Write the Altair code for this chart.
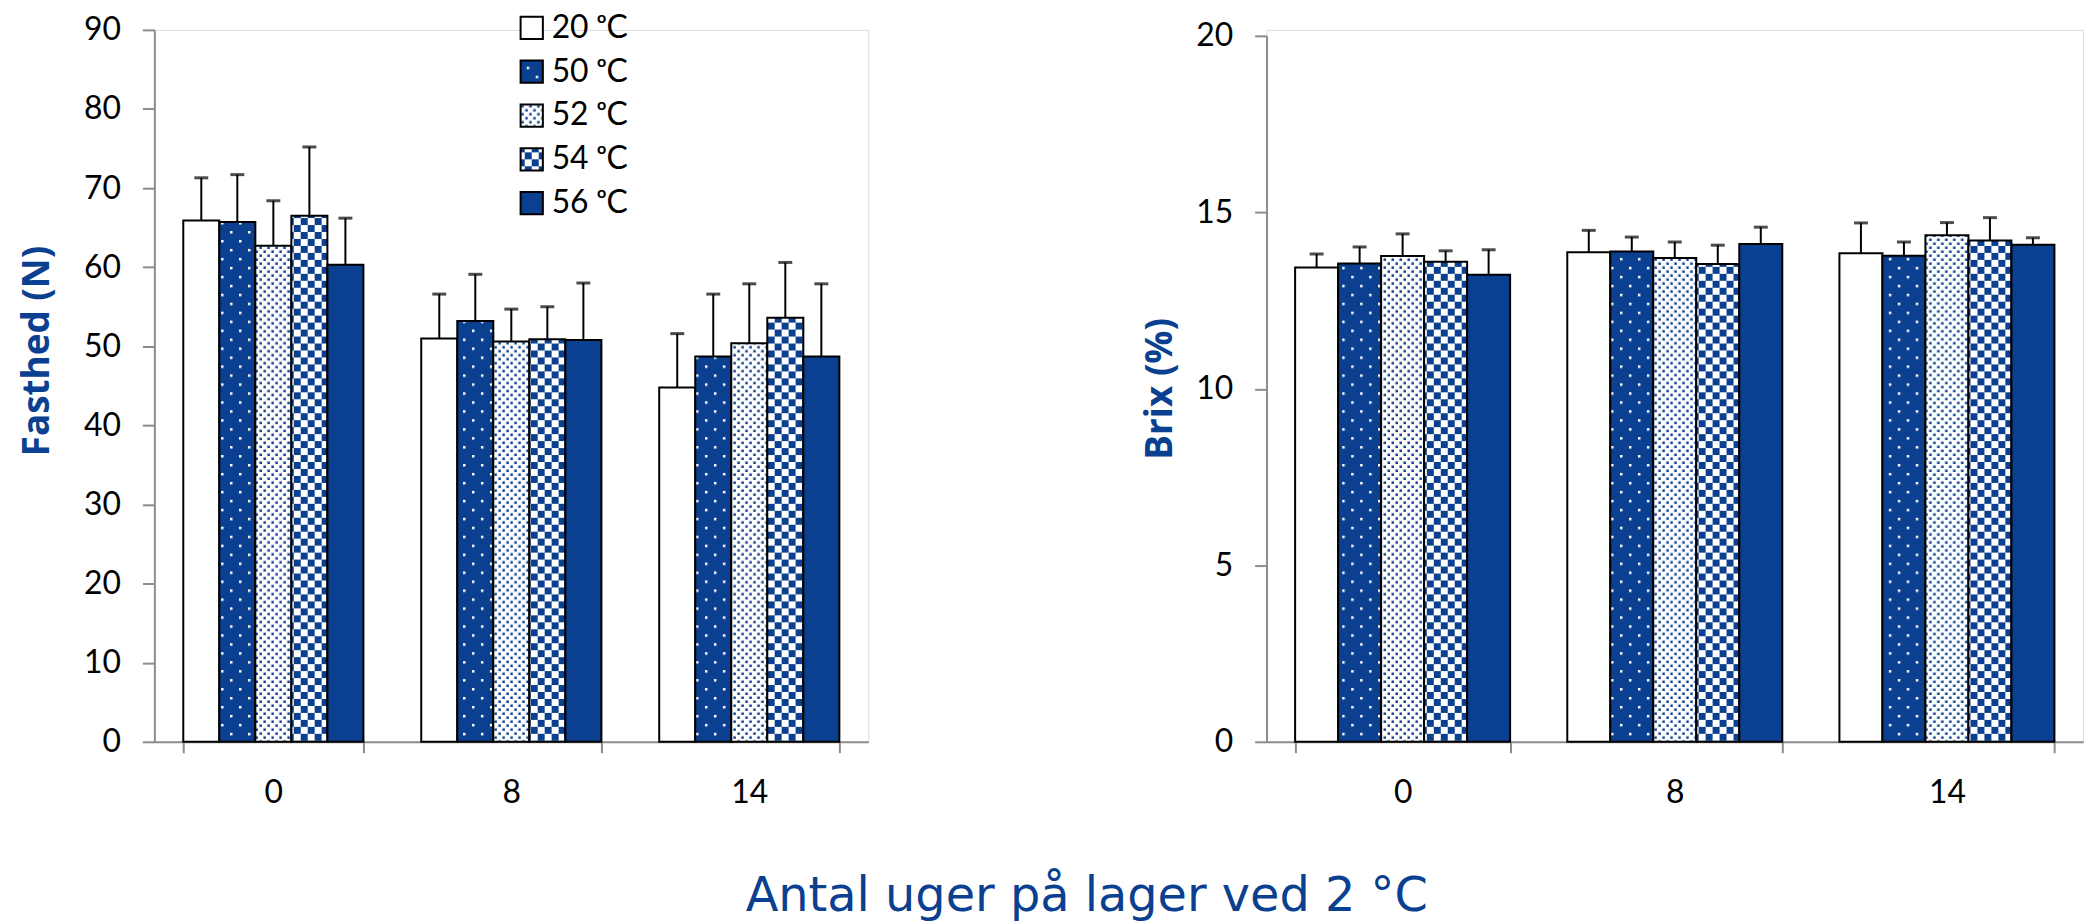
import altair as alt
import pandas as pd
from altair.utils import html as alt_html

# ---------------- data ----------------
weeks = ["0", "8", "14"]
temps = ["20 ᵒC", "50 ᵒC", "52 ᵒC", "54 ᵒC", "56 ᵒC"]

fasthed_w0 = [65.9, 65.7, 62.7, 66.5, 60.3]
fasthed_w8 = [51.0, 53.2, 50.6, 50.9, 50.8]
fasthed_w14 = [44.8, 48.7, 50.4, 53.6, 48.7]
fasthed_err_w0 = [5.4, 6.0, 5.7, 8.7, 5.9]
fasthed_err_w8 = [5.6, 5.9, 4.1, 4.1, 7.2]
fasthed_err_w14 = [6.8, 7.9, 7.5, 7.0, 9.2]

brix_w0 = [13.44, 13.55, 13.76, 13.60, 13.23]
brix_w8 = [13.87, 13.89, 13.71, 13.54, 14.10]
brix_w14 = [13.84, 13.77, 14.35, 14.20, 14.08]
brix_err_w0 = [0.38, 0.47, 0.63, 0.31, 0.71]
brix_err_w8 = [0.62, 0.41, 0.45, 0.53, 0.48]
brix_err_w14 = [0.86, 0.39, 0.36, 0.65, 0.20]

fasthed_ticks = [0, 10, 20, 30, 40, 50, 60, 70, 80, 90]
brix_ticks = [0, 5, 10, 15, 20]

x_title = "Antal uger på lager ved 2 °C"
left_title = "Fasthed (N)"
right_title = "Brix (%)"

BLUE = "#0B3F8F"
FONT = "Lato"
TFONT = "Open Sans"
fills = ["#ffffff", "url(#p50)", "url(#p52)", "url(#p54)", BLUE]

PLOT_H = 715


def long_table(vals, errs):
    rows = []
    for w, v_list, e_list in zip(weeks, vals, errs):
        for t, v, e in zip(temps, v_list, e_list):
            rows.append({"week": w, "temp": t, "value": v, "upper": v + e})
    return pd.DataFrame(rows)


df_f = long_table([fasthed_w0, fasthed_w8, fasthed_w14],
                  [fasthed_err_w0, fasthed_err_w8, fasthed_err_w14])
df_b = long_table([brix_w0, brix_w8, brix_w14],
                  [brix_err_w0, brix_err_w8, brix_err_w14])


def panel(df, ticks, ytitle, width, top_gap, xpad, title_pad, title_y, legend):
    base = alt.Chart(df)
    x = alt.X("week:N", sort=weeks, title=None,
              scale=alt.Scale(paddingInner=xpad, paddingOuter=xpad / 2),
              axis=alt.Axis(labelAngle=0, tickBand="extent", labelFontSize=32,
                            labelFont=FONT, labelColor="black", labelPadding=25,
                            tickSize=11, tickWidth=2, tickColor="#8c8c8c",
                            domainColor="#8c8c8c", domainWidth=2))
    xo = alt.XOffset("temp:N", sort=temps)
    yscale = alt.Scale(domain=[ticks[0], ticks[-1]], nice=False,
                       range=[PLOT_H, top_gap])
    y = alt.Y("value:Q", scale=yscale,
              axis=alt.Axis(values=ticks, format="d", title=ytitle, grid=False,
                            labelFontSize=32, labelFont=FONT, labelColor="black",
                            labelPadding=22, tickSize=12, tickWidth=2,
                            tickColor="#8c8c8c", domainColor="#8c8c8c",
                            domainWidth=2, titleFont=TFONT, titleFontSize=37,
                            titleFontWeight="bold", titleColor=BLUE,
                            titlePadding=title_pad, titleY=title_y))
    color = alt.Color("temp:N", sort=temps,
                      scale=alt.Scale(domain=temps, range=fills), legend=legend)
    bars = base.mark_bar(stroke="black", strokeWidth=2).encode(
        x=x, xOffset=xo, y=y, color=color)
    rules = base.mark_rule(color="black", strokeWidth=2).encode(
        x=x, xOffset=xo, y=alt.Y("value:Q", scale=yscale), y2="upper:Q")
    caps = base.mark_tick(color="black", thickness=3, size=14).encode(
        x=x, xOffset=xo, y=alt.Y("upper:Q", scale=yscale))
    return alt.layer(bars, rules, caps).properties(width=width, height=PLOT_H)


legend = alt.Legend(orient="none", legendX=363, legendY=-18, title=None,
                    symbolType="square", symbolSize=500, symbolStrokeColor="black",
                    symbolStrokeWidth=2, labelFontSize=32, labelFont=FONT,
                    labelColor="black", rowPadding=12, labelOffset=4)

left = panel(df_f, fasthed_ticks, left_title, 717, 0, 0.243, 27, 322, legend)
right = panel(df_b, brix_ticks, right_title, 820, 6, 0.21, 16, 360, None)

chart = alt.hconcat(left, right, spacing=273).resolve_scale(
    color="independent", x="independent", y="independent", xOffset="independent"
).properties(
    title=alt.TitleParams(x_title, orient="bottom", anchor="middle", fontSize=48,
                          font="DejaVu Sans", fontWeight="normal", color=BLUE,
                          offset=64, dx=36),
    padding={"left": 10, "top": 1, "right": 0, "bottom": 0},
).configure_view(stroke=None).configure(background="white")

PATTERN_DEFS = f"""
<svg width="0" height="0" style="position:absolute;left:0;top:0" aria-hidden="true">
  <defs>
    <pattern id="p50" patternUnits="userSpaceOnUse" width="18" height="18">
      <rect width="18" height="18" fill="{BLUE}"/>
      <rect x="4" y="4" width="2.5" height="2.5" fill="#ffffff"/>
      <rect x="13" y="13" width="2.5" height="2.5" fill="#ffffff"/>
    </pattern>
    <pattern id="p52" patternUnits="userSpaceOnUse" width="8" height="8">
      <rect width="8" height="8" fill="#ffffff"/>
      <rect x="1.5" y="1.5" width="2.5" height="2.5" fill="{BLUE}"/>
      <rect x="5.5" y="5.5" width="2.5" height="2.5" fill="{BLUE}"/>
    </pattern>
    <pattern id="p54" patternUnits="userSpaceOnUse" width="14" height="14">
      <rect width="14" height="14" fill="#ffffff"/>
      <rect x="0" y="0" width="7" height="7" fill="{BLUE}"/>
      <rect x="7" y="7" width="7" height="7" fill="{BLUE}"/>
    </pattern>
  </defs>
</svg>
"""


class PatternTemplate:
    def render(self, **kwargs):
        page = alt_html.TEMPLATES["standard"].render(**kwargs)
        return page.replace("<body>", "<body>\n" + PATTERN_DEFS, 1)


chart.save("out.html", embed_options={"renderer": "svg", "actions": False},
           template=PatternTemplate())
